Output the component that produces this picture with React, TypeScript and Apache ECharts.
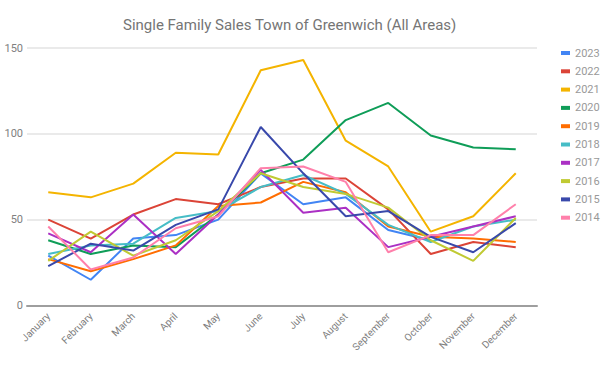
import React, { useEffect, useRef } from "react";
import * as echarts from "echarts";

const months = ["January", "February", "March", "April", "May", "June", "July", "August", "September", "October", "November", "December"];
const yTicks = [0, 50, 100, 150];

const y2023 = [29, 15, 39, 41, 50, 77, 59, 63, 44, 38];
const y2022 = [50, 39, 53, 62, 59, 69, 74, 74, 56, 30, 37, 34];
const y2021 = [66, 63, 71, 89, 88, 137, 143, 96, 81, 43, 52, 77];
const y2020 = [38, 30, 35, 34, 53, 77, 85, 108, 118, 99, 92, 91];
const y2019 = [27, 20, 27, 35, 58, 60, 72, 66, 46, 40, 39, 37];
const y2018 = [30, 35, 36, 51, 55, 69, 76, 65, 47, 37, 46, 50];
const y2017 = [42, 31, 53, 30, 53, 79, 54, 57, 34, 40, 46, 52];
const y2016 = [26, 43, 29, 38, 55, 77, 69, 65, 57, 38, 26, 51];
const y2015 = [23, 36, 32, 47, 56, 104, 77, 52, 55, 40, 31, 48];
const y2014 = [46, 21, 28, 45, 52, 80, 81, 72, 31, 41, 41, 59];

const seriesNames = ["2023", "2022", "2021", "2020", "2019", "2018", "2017", "2016", "2015", "2014"];
const seriesData = [y2023, y2022, y2021, y2020, y2019, y2018, y2017, y2016, y2015, y2014];
const colors = ["#4285F4", "#DB4437", "#F4B400", "#0F9D58", "#FF6D01", "#46BDC6", "#AB30C4", "#C0CA33", "#3949AB", "#FF80AB"];

export default function App() {
  const ref = useRef<HTMLDivElement>(null);
  useEffect(() => {
    if (!ref.current) return;
    const chart = echarts.init(ref.current, null, { renderer: "svg" });
    chart.setOption({
      animation: false,
      color: colors,
      textStyle: { fontFamily: "Roboto", color: "#8a8a8a" },
      title: {
        text: "Single Family Sales Town of Greenwich (All Areas)",
        left: 118,
        top: 12,
        textStyle: { fontFamily: "Roboto", fontSize: 15, fontWeight: "normal", color: "#757575" },
      },
      legend: {
        orient: "vertical",
        left: 556,
        top: 42,
        icon: "rect",
        itemWidth: 9,
        itemHeight: 4,
        itemGap: 6.3,
        textStyle: { fontFamily: "Roboto", fontSize: 11, color: "#999999", lineHeight: 12 },
        data: seriesNames.map((n) => ({ name: n, textStyle: { color: "#999999" } })),
      },
      grid: { left: 27, right: 71, top: 48, bottom: 63.5, containLabel: false },
      xAxis: {
        type: "category",
        data: months,
        boundaryGap: true,
        axisTick: { show: false },
        axisLine: { lineStyle: { color: "#9e9e9e", width: 2 } },
        axisLabel: { rotate: 45, fontFamily: "Roboto", fontSize: 10, color: "#808080", margin: 9, interval: 0 },
      },
      yAxis: {
        type: "value",
        min: yTicks[0],
        max: yTicks[yTicks.length - 1],
        interval: 50,
        axisLine: { show: false },
        axisTick: { show: false },
        splitLine: { lineStyle: { color: "#e3e3e3", width: 1.5 } },
        axisLabel: { fontFamily: "Roboto", fontSize: 11, color: "#808080", margin: 4 },
      },
      series: seriesNames.map((name, i) => ({
        name,
        type: "line",
        data: seriesData[i],
        showSymbol: false,
        symbol: "none",
        lineStyle: { width: 2 },
        emphasis: { disabled: true },
      })),
    });
    return () => chart.dispose();
  }, []);
  return <div ref={ref} style={{ width: 608, height: 369, position: "absolute", left: 0, top: 0 }} />;
}
